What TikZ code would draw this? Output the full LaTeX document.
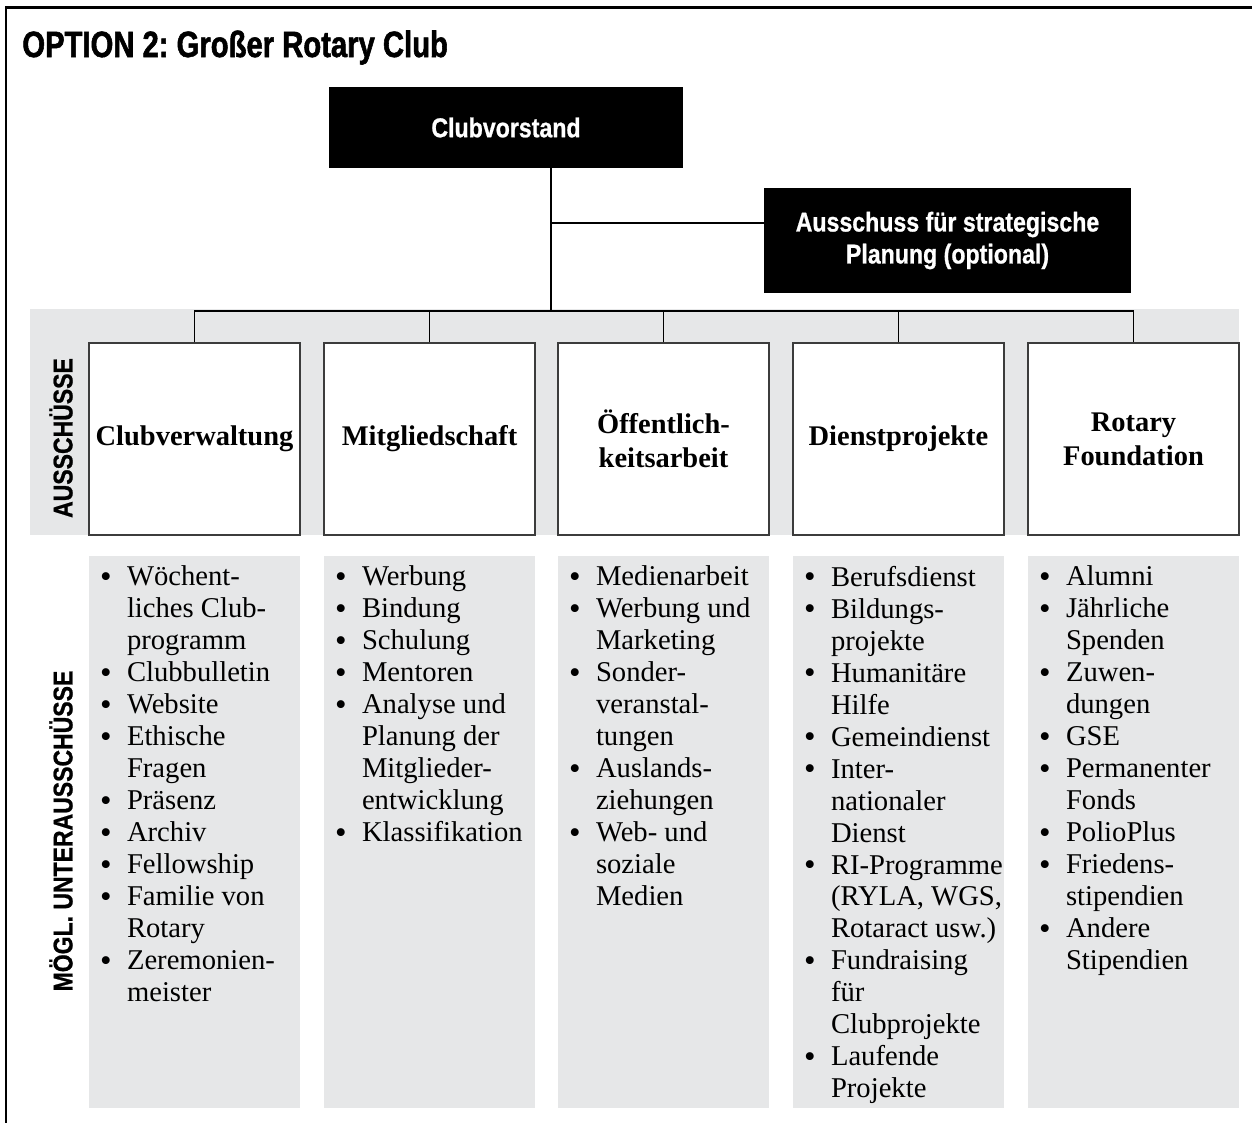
\documentclass[tikz,border=0pt]{standalone}
\usepackage{graphicx}
\usepackage{fontspec}
\setmainfont{Liberation Serif}
\newfontfamily\headfont[FakeStretch=0.85, FakeBold=0.8]{Liberation Sans}
\newfontfamily\titlefont[FakeStretch=0.8, FakeBold=1.5]{Liberation Sans}
\definecolor{bandgrey}{HTML}{E6E7E8}
\definecolor{boxline}{HTML}{3C3C3C}
\newcommand{\itm}{\makebox[0.54cm][l]{\smash{\raisebox{-0.05em}{\scalebox{1.15}{\textbullet}}}}}
\newcommand{\cnt}{\hspace*{0.54cm}}
\frenchspacing

\begin{document}
\begin{tikzpicture}[x=0.02cm, y=-0.02cm,
		conn/.style={line width=1.1pt},
		blackbox/.style={fill=black, text=white, align=center, inner sep=0pt, font=\headfont\bfseries\fontsize{15.5}{18.2}\selectfont},
		combox/.style={draw=boxline, line width=0.8pt, fill=white, minimum width=4.22cm, minimum height=3.84cm, align=center, inner sep=0pt, font=\bfseries\fontsize{16.2}{19.4}\selectfont},
		subpanel/.style={fill=bandgrey, minimum width=4.22cm, minimum height=11.04cm, inner sep=0pt},
		listtext/.style={anchor=north west, align=left, inner sep=0pt, font=\fontsize{16.3}{18.2}\selectfont, execute at begin node={\strut}},
		vlabel/.style={rotate=90, inner sep=0pt, font=\headfont\bfseries\fontsize{15.4}{18}\selectfont}]
			\useasboundingbox (0,0) rectangle (1252,1123);
			\draw[line width=0.06cm] (6,1130) -- (6,7) -- (1260,7);
			\fill[bandgrey] (30,309) rectangle (1239,535);

			\node (title)[anchor=base west, inner sep=0pt, font=\titlefont\bfseries\fontsize{20.8}{24}\selectfont] at (22,57) {OPTION 2: Großer Rotary Club};

			\node (board)[blackbox, minimum width=7.08cm, minimum height=1.62cm] at (506,127.5) {Clubvorstand};
			\node (strat)[blackbox, minimum width=7.34cm, minimum height=2.1cm] at (947.5,240.5) {Ausschuss für strategische\\Planung (optional)};

			\node (c1)[combox] at (194.5,439) {Clubverwaltung};
			\node (c2)[combox] at (429.5,439) {Mitgliedschaft};
			\node (c3)[combox] at (663.5,439) {Öffentlich-\\keitsarbeit};
			\node (c4)[combox] at (898.5,439) {Dienstprojekte};
			\node (c5)[combox] at (1133.5,439) {Rotary\\Foundation};

			\node (lblcom)[vlabel] at (61,438) {AUSSCHÜSSE};
			\node (lblsub)[vlabel] at (61,831) {MÖGL. UNTERAUSSCHÜSSE};

			% connectors
			\coordinate (split) at (551,223);
			\coordinate (bar) at (551,311);
			\draw[conn] (board.south -| bar) -- (bar);
			\draw[conn] (split) -- (split -| strat.west);
			\draw[conn] (c1.north) -- (c1.north |- bar) -- (c5.north |- bar) -- (c5.north);
			\foreach \n in {2,3,4}
				\draw[conn] (c\n.north) -- (c\n.north |- bar);

			% sub-committee lists
			\foreach \n/\px in {1/194.5,2/429.5,3/663.5,4/898.5,5/1133.5}
				\node (p\n)[subpanel] at (\px,832) {};

			\node (l1)[listtext] at ([shift={(0.22cm,-0.2cm)}]p1.north west) {\itm Wöchent-\\\cnt liches Club-\\\cnt programm\\\itm Clubbulletin\\\itm Website\\\itm Ethische\\\cnt Fragen\\\itm Präsenz\\\itm Archiv\\\itm Fellowship\\\itm Familie von\\\cnt Rotary\\\itm Zeremonien-\\\cnt meister};
			\node (l2)[listtext] at ([shift={(0.22cm,-0.2cm)}]p2.north west) {\itm Werbung\\\itm Bindung\\\itm Schulung\\\itm Mentoren\\\itm Analyse und\\\cnt Planung der\\\cnt Mitglieder-\\\cnt entwicklung\\\itm Klassifikation};
			\node (l3)[listtext] at ([shift={(0.22cm,-0.2cm)}]p3.north west) {\itm Medienarbeit\\\itm Werbung und\\\cnt Marketing\\\itm Sonder-\\\cnt veranstal-\\\cnt tungen\\\itm Auslands-\\\cnt ziehungen\\\itm Web- und\\\cnt soziale\\\cnt Medien};
			\node (l4)[listtext] at ([shift={(0.22cm,-0.2cm)}]p4.north west) {\itm Berufsdienst\\\itm Bildungs-\\\cnt projekte\\\itm Humanitäre\\\cnt Hilfe\\\itm Gemeindienst\\\itm Inter-\\\cnt nationaler\\\cnt Dienst\\\itm RI-Programme\\\cnt (RYLA, WGS,\\\cnt Rotaract usw.)\\\itm Fundraising\\\cnt für\\\cnt Clubprojekte\\\itm Laufende\\\cnt Projekte};
			\node (l5)[listtext] at ([shift={(0.22cm,-0.2cm)}]p5.north west) {\itm Alumni\\\itm Jährliche\\\cnt Spenden\\\itm Zuwen-\\\cnt dungen\\\itm GSE\\\itm Permanenter\\\cnt Fonds\\\itm PolioPlus\\\itm Friedens-\\\cnt stipendien\\\itm Andere\\\cnt Stipendien};
		\end{tikzpicture}
\end{document}
